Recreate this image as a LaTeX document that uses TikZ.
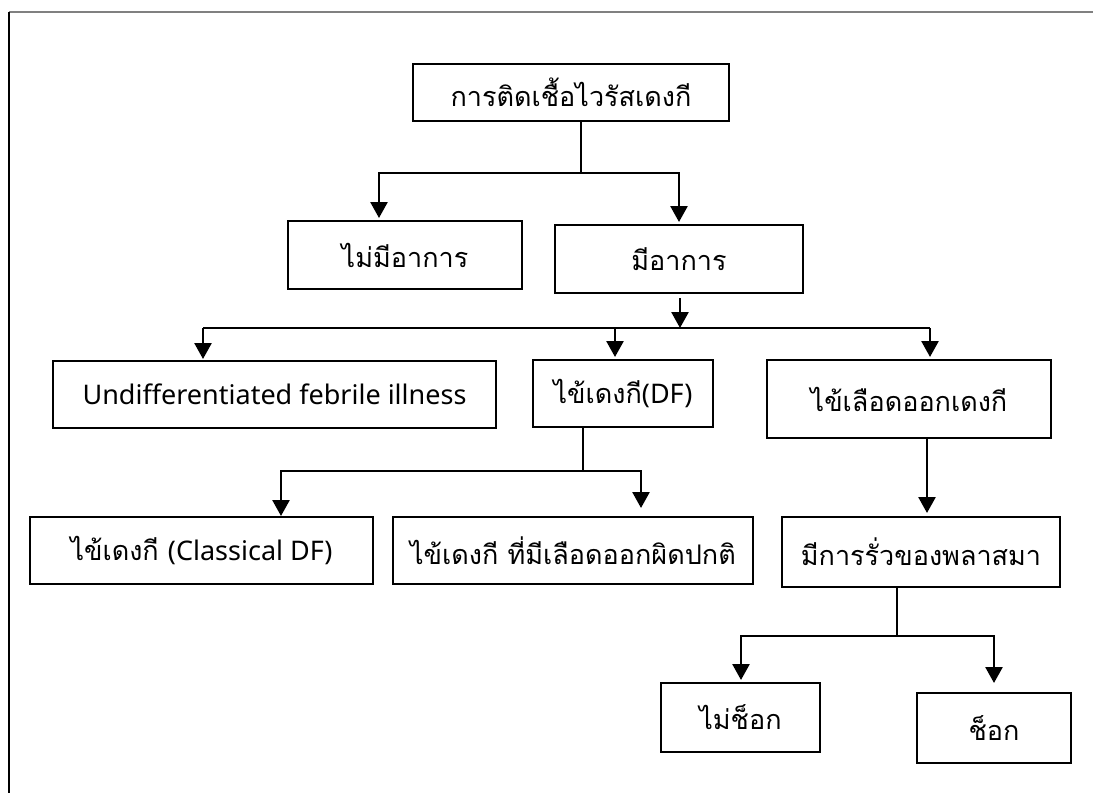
\documentclass[tikz,border=0pt]{standalone}
\usepackage{fontspec}
\newfontfamily\thai[Script=Thai]{Loma}
\newfontfamily\latfont{Noto Sans}
\newcommand{\lat}[1]{{\latfont\fontsize{27}{32}\selectfont #1}}
\usetikzlibrary{arrows.meta}
\begin{document}
\begin{tikzpicture}[x=1pt,y=-1pt,
  box/.style={draw, line width=2pt, inner sep=0pt, align=center, font=\thai\fontsize{27}{32}\selectfont},
  ln/.style={line width=2.6pt},
  arr/.style={line width=2.6pt, -{Triangle[width=17pt,length=16pt]}}]
\useasboundingbox (0,0) rectangle (1093,793);
% frame
\draw[gray, line width=2pt] (9,12) -- (1093,12);
\draw[black, line width=1.4pt] (9,12) -- (9,793);
% boxes
\node[box, minimum width=316pt, minimum height=57pt] (b1) at (571,92.5) {การติดเชื้อไวรัสเดงกี};
\node[box, minimum width=234pt, minimum height=68pt] (b2) at (405,255) {ไม่มีอาการ};
\node[box, minimum width=248pt, minimum height=68pt] (b3) at (679,259) {มีอาการ};
\node[box, minimum width=443pt, minimum height=67pt] (b4) at (274.5,394.5) {\lat{Undifferentiated febrile illness}};
\node[box, minimum width=180pt, minimum height=67pt] (b5) at (623,393.5) {ไข้เดงกี\lat{(DF)}};
\node[box, minimum width=284pt, minimum height=78pt] (b6) at (909,399) {ไข้เลือดออกเดงกี};
\node[box, minimum width=343pt, minimum height=67pt] (b7) at (201.5,550.5) {ไข้เดงกี \lat{(Classical DF)}};
\node[box, minimum width=360pt, minimum height=67pt] (b8) at (573,550.5) {ไข้เดงกี ที่มีเลือดออกผิดปกติ};
\node[box, minimum width=278pt, minimum height=70pt] (b9) at (921,552) {มีการรั่วของพลาสมา};
\node[box, minimum width=159pt, minimum height=69pt] (b10) at (740.5,717.5) {ไม่ช็อก};
\node[box, minimum width=154pt, minimum height=70pt] (b11) at (994,728) {ช็อก};
% junction coordinates
\coordinate (j1) at (581,173);
\coordinate (x2) at (379,200);
\coordinate (x3) at (679,200);
\coordinate (j2) at (680,328);
\coordinate (j2l) at (203,328);
\coordinate (j2m) at (615,328);
\coordinate (j2r) at (930,328);
\coordinate (j3) at (583,471);
\coordinate (x7) at (281,500);
\coordinate (x8) at (641,500);
\coordinate (x9) at (927,480);
\coordinate (j4) at (897,636);
\coordinate (x10) at (741,660);
\coordinate (x11) at (994,660);
% connectors
\draw[ln] (b1.south -| j1) -- (j1);
\draw[arr] (j1) -| ([yshift=2pt]b2.north -| x2);
\draw[arr] (j1) -| ([yshift=2pt]b3.north -| x3);
\draw[arr] ([yshift=-4pt]b3.south -| j2) -- (j2);
\draw[ln] (j2l) -- (j2r);
\draw[arr] (j2l) -- ([yshift=1pt]b4.north -| j2l);
\draw[arr] (j2m) -- ([yshift=2pt]b5.north -| j2m);
\draw[arr] (j2r) -- ([yshift=2pt]b6.north -| j2r);
\draw[ln] (b5.south -| j3) -- (j3);
\draw[arr] (j3) -| (b7.north -| x7);
\draw[arr] (j3) -| ([yshift=8pt]b8.north -| x8);
\draw[arr] (b6.south -| x9) -- ([yshift=3pt]b9.north -| x9);
\draw[ln] (b9.south -| j4) -- (j4);
\draw[arr] (j4) -| ([yshift=2pt]b10.north -| x10);
\draw[arr] (j4) -| ([yshift=9pt]b11.north -| x11);
\end{tikzpicture}
\end{document}
